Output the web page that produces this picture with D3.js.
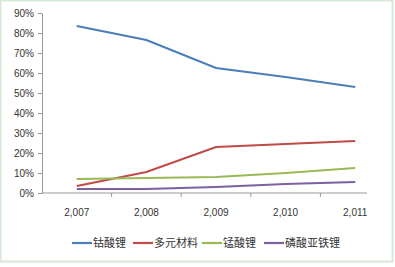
<!DOCTYPE html>
<html>
<head>
<meta charset="utf-8">
<script src="https://cdn.jsdelivr.net/npm/d3@7"></script>
<style>
  body { margin: 0; background: #fff; }
  svg { display: block; }
</style>
</head>
<body>
<script>
var years = [2007, 2008, 2009, 2010, 2011];
var seriesNames = ["钴酸锂", "多元材料", "锰酸锂", "磷酸亚铁锂"];
var licoo2 = [83.5, 76.5, 62.5, 58, 53];
var ncm = [3.5, 10.5, 23, 24.5, 26];
var lmo = [7, 7.5, 8, 10, 12.5];
var lfp = [2, 2, 3, 4.5, 5.5];
var yTicks = [0, 10, 20, 30, 40, 50, 60, 70, 80, 90];
var colors = ["#4a7ebb", "#be4b48", "#98b954", "#7d60a0"];

var allSeries = [licoo2, ncm, lmo, lfp];

var width = 395, height = 267;
var svg = d3.select("body").append("svg")
  .attr("width", width).attr("height", height);

// outer frame
svg.append("rect")
  .attr("x", 0.5).attr("y", 0.5)
  .attr("width", width - 3).attr("height", height - 6)
  .attr("fill", "#fff").attr("stroke", "#d6e8d8").attr("stroke-width", 2);

var x = d3.scaleBand().domain(years).range([42, 390]);
var y = d3.scaleLinear().domain([0, 90]).range([193, 13]);

var font = "'Liberation Sans', Arial, sans-serif";

// y axis
var yAxis = svg.append("g").attr("transform", "translate(42,0)")
  .call(d3.axisLeft(y).tickValues(yTicks).tickSize(4).tickSizeOuter(0)
    .tickFormat(function(d) { return d + "%"; }));
yAxis.select(".domain").attr("stroke", "#999");
yAxis.selectAll(".tick line").attr("stroke", "#999");
yAxis.selectAll("text").attr("fill", "#333").attr("font-size", 10)
  .attr("font-family", font).attr("x", -8);

// x axis with ticks between categories
var xAxis = svg.append("g").attr("transform", "translate(0,193)");
xAxis.append("line").attr("x1", 42).attr("x2", 367)
  .attr("stroke", "#999");
xAxis.selectAll(".tk").data(years.slice(1)).enter().append("line")
  .attr("x1", function(d) { return x(d); })
  .attr("x2", function(d) { return x(d); })
  .attr("y1", 0).attr("y2", 4).attr("stroke", "#999");
xAxis.selectAll(".lbl").data(years).enter().append("text")
  .attr("x", function(d) { return x(d) + x.bandwidth() / 2; })
  .attr("y", 23)
  .attr("text-anchor", "middle")
  .attr("font-size", 10).attr("font-family", font).attr("fill", "#333")
  .text(function(d) { return d3.format(",")(d); });

var line = d3.line()
  .x(function(d, i) { return x(years[i]) + x.bandwidth() / 2; })
  .y(function(d) { return y(d); });

allSeries.forEach(function(s, i) {
  svg.append("path").datum(s)
    .attr("d", line)
    .attr("fill", "none")
    .attr("stroke", colors[i])
    .attr("stroke-width", 2.2);
});

// legend
var legendX = [72, 133, 202, 264];
var lg = svg.selectAll(".lg").data(seriesNames).enter().append("g")
  .attr("transform", function(d, i) { return "translate(" + legendX[i] + ",243)"; });
lg.append("line").attr("x1", 0).attr("x2", 20).attr("y1", 0).attr("y2", 0)
  .attr("stroke", function(d, i) { return colors[i]; }).attr("stroke-width", 2.2);
lg.append("text").attr("x", 21).attr("y", 4)
  .attr("font-size", 11).attr("fill", "#333")
  .attr("font-family", "'Noto Sans CJK SC', sans-serif")
  .text(function(d) { return d; });
</script>
</body>
</html>
